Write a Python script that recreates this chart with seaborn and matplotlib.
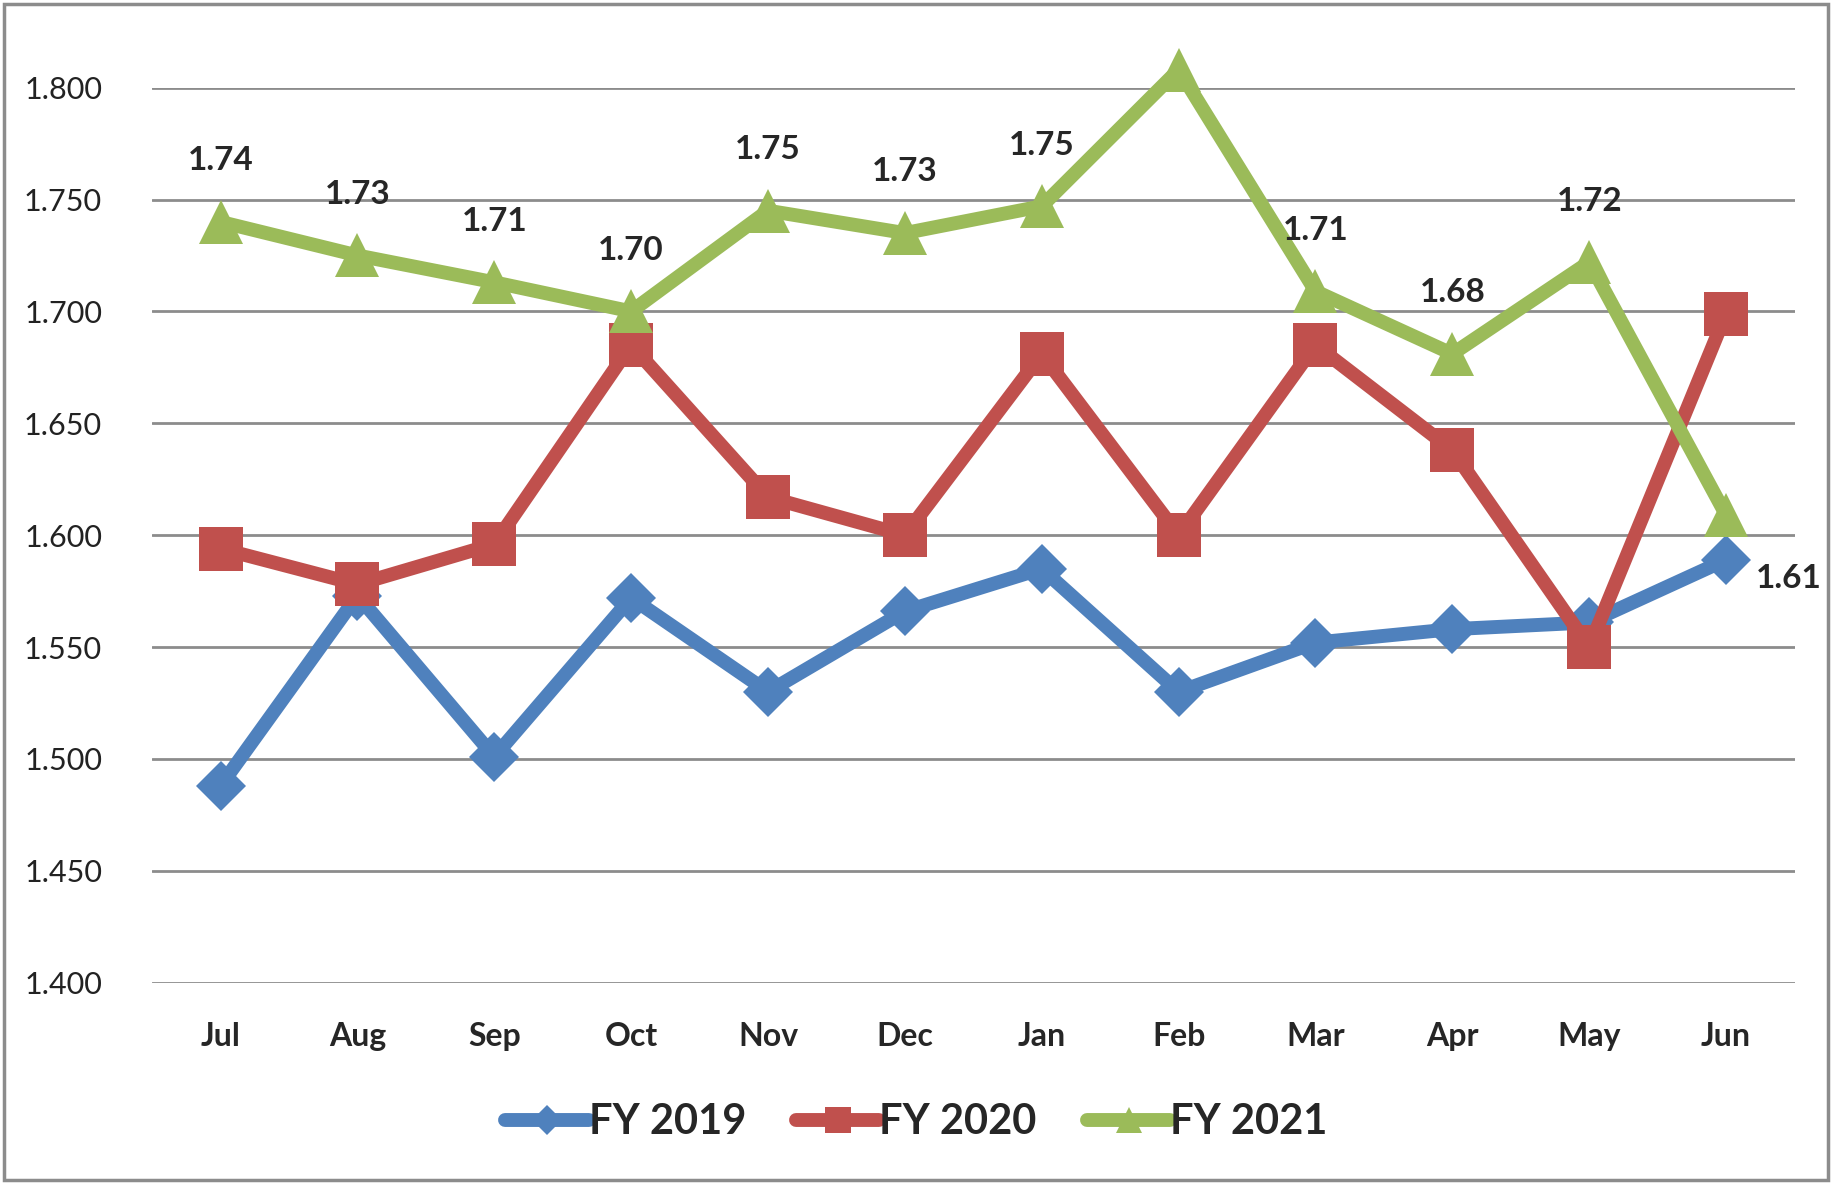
import seaborn as sns
import pandas as pd
from matplotlib import pyplot as plt
from matplotlib.patches import Rectangle

months = ['Jul', 'Aug', 'Sep', 'Oct', 'Nov', 'Dec', 'Jan', 'Feb', 'Mar', 'Apr', 'May', 'Jun']
fy2019 = [1.488, 1.573, 1.501, 1.572, 1.530, 1.566, 1.585, 1.530, 1.552, 1.558, 1.561, 1.589]
fy2020 = [1.594, 1.578, 1.596, 1.685, 1.617, 1.600, 1.681, 1.600, 1.685, 1.638, 1.550, 1.699]
fy2021 = [1.740, 1.725, 1.713, 1.700, 1.745, 1.735, 1.747, 1.808, 1.709, 1.681, 1.722, 1.609]
labels2021 = ['1.74', '1.73', '1.71', '1.70', '1.75', '1.73', '1.75', '1.81', '1.71', '1.68', '1.72', '1.61']
yticks = [1.4, 1.45, 1.5, 1.55, 1.6, 1.65, 1.7, 1.75, 1.8]

sns.set_style('white')
plt.rcParams['font.family'] = ['Lato', 'DejaVu Sans']

fig = plt.figure(figsize=(18.33, 11.84), dpi=100)
ax = fig.add_axes([0.083, 0.170, 0.896, 0.756])

series = [
    ('FY 2019', fy2019, '#4F81BD', 'D', 25),
    ('FY 2020', fy2020, '#C0504D', 's', 31),
    ('FY 2021', fy2021, '#9BBB59', '^', 32),
]
for name, vals, color, marker, ms in series:
    df = pd.DataFrame({'x': range(len(months)), 'y': vals})
    sns.lineplot(data=df, x='x', y='y', ax=ax, color=color, linewidth=10,
                 marker=marker, markersize=ms, markeredgewidth=0,
                 label=name, clip_on=False, zorder=3)

for i, (v, t) in enumerate(zip(fy2021, labels2021)):
    if t == '1.81':
        off = (0, 24)
    elif i == len(months) - 1:
        off = (45, -46)
    else:
        off = (0, 44)
    ax.annotate(t, (i, v), xytext=off, textcoords='offset points',
                ha='center', va='center', fontsize=24, fontweight='bold', zorder=5)

ax.set_xlim(-0.5, 11.5)
ax.set_ylim(1.4, 1.8)
ax.set_yticks(yticks)
ax.set_yticklabels([f'{v:.3f}' for v in yticks], fontsize=22, color='#222222')
ax.set_xticks(range(len(months)))
ax.set_xticklabels(months, fontsize=23, fontweight='bold')
ax.tick_params(axis='x', pad=28, length=0)
ax.tick_params(axis='y', pad=36, length=0)
ax.yaxis.grid(True, color='#8c8c8c', linewidth=2)
ax.set_axisbelow(True)
for s in ax.spines.values():
    s.set_visible(False)
ax.set_xlabel('')
ax.set_ylabel('')

ax.legend(loc='center', bbox_to_anchor=(0.5, 0.052), bbox_transform=fig.transFigure,
          ncol=3, frameon=False, prop={'size': 30, 'weight': 'bold'},
          handlelength=2.0, handletextpad=0.0, columnspacing=1.2, markerscale=0.6)

fig.patches.append(Rectangle((0.002, 0.003), 0.995, 0.994, transform=fig.transFigure,
                             fill=False, edgecolor='#8c8c8c', linewidth=2.5))

fig.savefig('out.png', dpi=100)
